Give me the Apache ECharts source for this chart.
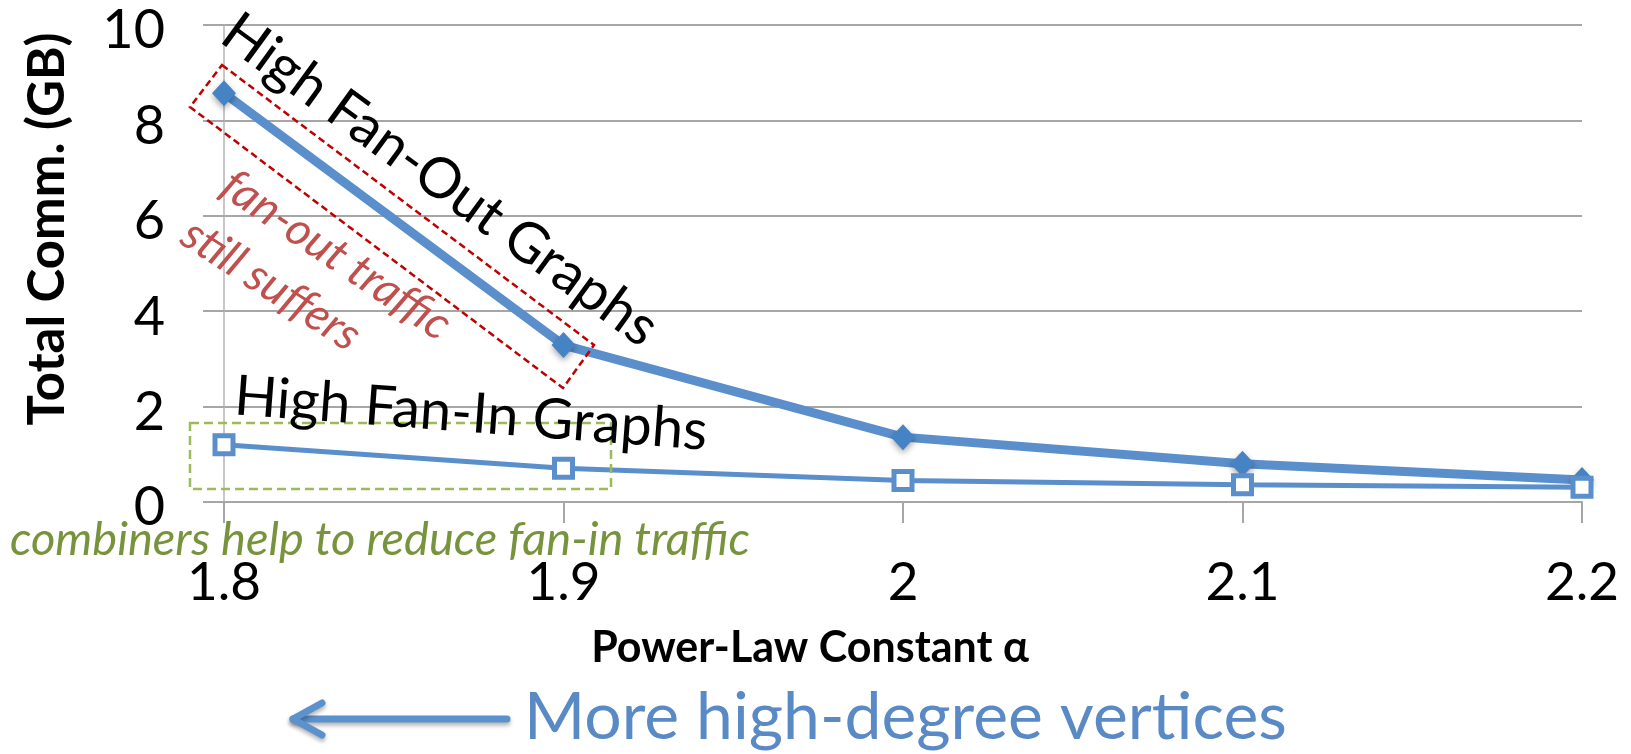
<!DOCTYPE html>
<html>
<head>
<meta charset="utf-8">
<script src="https://cdn.jsdelivr.net/npm/echarts@6/dist/echarts.min.js"></script>
<style>
  html, body { margin: 0; padding: 0; background: #fff; }
  #chart { width: 1631px; height: 754px; }
</style>
</head>
<body>
<div id="chart"></div>
<script>
// Power-law constant alpha (x categories)
const alphaLabels = ['1.8', '1.9', '2', '2.1', '2.2'];
// Total communication in GB
const fanOutGB = [8.57, 3.29, 1.36, 0.80, 0.46];
const fanInGB = [1.20, 0.71, 0.45, 0.36, 0.31];
// Y axis range
const yMin = 0, yMax = 10, yStep = 2;

const FONT = 'Lato, "Open Sans", sans-serif';
const BLUE = '#5A8FCB';
const GRID_GRAY = '#A6A6A6';
const deg = Math.PI / 180;

const chart = echarts.init(document.getElementById('chart'), null, { renderer: 'canvas' });

function txt(o) {
  // graphic text helper; sets both modern and legacy alignment keys
  const st = Object.assign({
    fill: '#000',
    align: o.align || 'center',
    verticalAlign: 'middle',
    textAlign: o.align || 'center',
    textVerticalAlign: 'middle'
  }, o.style);
  return { type: 'text', x: o.x, y: o.y, rotation: o.rotation || 0, z: 100, style: st };
}

const option = {
  animation: false,
  backgroundColor: '#fff',
  grid: { left: 224, right: 49, top: 25, bottom: 252 },
  xAxis: {
    type: 'category',
    data: alphaLabels,
    boundaryGap: false,
    axisLine: { show: true, lineStyle: { color: GRID_GRAY, width: 2 } },
    axisTick: { show: true, length: 21, interval: 0, lineStyle: { color: GRID_GRAY, width: 2 } },
    axisLabel: { fontFamily: FONT, fontSize: 53, color: '#000', margin: 54, interval: 0 },
    splitLine: { show: false }
  },
  yAxis: {
    type: 'value',
    min: yMin, max: yMax, interval: yStep,
    axisLine: { show: true, lineStyle: { color: '#B4B4B4', width: 1.5 } },
    axisTick: { show: true, length: 21, lineStyle: { color: GRID_GRAY, width: 2 } },
    // labels sit a little below their gridlines
    axisLabel: { fontFamily: FONT, fontSize: 54, color: '#000', margin: 59,
      verticalAlign: 'top', lineHeight: 12 },
    splitLine: { show: true, lineStyle: { color: GRID_GRAY, width: 2 } }
  },
  series: [
    {
      name: 'High Fan-Out Graphs',
      type: 'line',
      data: fanOutGB,
      symbol: 'diamond',
      symbolSize: [24, 26],
      lineStyle: { color: BLUE, width: 9 },
      itemStyle: {
        color: '#4683C5',
        shadowBlur: 6, shadowColor: 'rgba(0,0,0,0.35)', shadowOffsetY: 3
      },
      z: 2
    },
    {
      name: 'High Fan-In Graphs',
      type: 'line',
      data: fanInGB,
      symbol: 'rect',
      symbolSize: 18,
      lineStyle: { color: BLUE, width: 5 },
      itemStyle: { color: '#fff', borderColor: BLUE, borderWidth: 5 },
      z: 3
    }
  ],
  graphic: [
    // axis titles
    txt({ x: 48, y: 229, rotation: Math.PI / 2,
      style: { text: 'Total Comm. (GB)', font: 'bold 51px ' + FONT } }),
    txt({ x: 810, y: 648,
      style: { text: 'Power-Law Constant α', font: 'bold 43px ' + FONT } }),
    // series annotations
    txt({ x: 440, y: 180, rotation: -36 * deg,
      style: { text: 'High Fan-Out Graphs', font: '56px ' + FONT } }),
    txt({ x: 471, y: 414, rotation: -4.3 * deg,
      style: { text: 'High Fan-In Graphs', font: '56px ' + FONT } }),
    txt({ x: 336, y: 255, rotation: -34 * deg,
      style: { text: 'fan-out traffic', font: 'italic 46px ' + FONT, fill: '#C0504D' } }),
    txt({ x: 271, y: 285, rotation: -33 * deg,
      style: { text: 'still suffers', font: 'italic 46px ' + FONT, fill: '#C0504D' } }),
    txt({ x: 10, y: 540, align: 'left',
      style: { text: 'combiners help to reduce fan-in traffic', font: 'italic 47px ' + FONT, fill: '#77933C' } }),
    // dashed highlight boxes
    {
      type: 'polygon', z: 99,
      shape: { points: [[222, 65], [594, 345], [563, 388], [190, 107]] },
      style: { fill: 'none', stroke: '#C00000', lineWidth: 2.5, lineDash: [7, 4] }
    },
    {
      type: 'rect', z: 99,
      shape: { x: 190, y: 423, width: 421, height: 66 },
      style: { fill: 'none', stroke: '#9BBB59', lineWidth: 2.5, lineDash: [9, 5] }
    },
    // direction arrow and caption
    {
      type: 'polyline', z: 99,
      shape: { points: [[293, 719], [507, 719]] },
      style: { stroke: '#5B91CC', lineWidth: 7, lineCap: 'round', fill: 'none',
        shadowBlur: 4, shadowColor: 'rgba(0,0,0,0.3)', shadowOffsetY: 3 }
    },
    {
      type: 'polyline', z: 99,
      shape: { points: [[322, 703], [293, 719], [322, 735]] },
      style: { stroke: '#5B91CC', lineWidth: 7, lineCap: 'round', lineJoin: 'round', fill: 'none',
        shadowBlur: 4, shadowColor: 'rgba(0,0,0,0.3)', shadowOffsetY: 3 }
    },
    txt({ x: 524, y: 718, align: 'left',
      style: { text: 'More high-degree vertices', font: '66px ' + FONT, fill: '#5A8AC6' } })
  ]
};

chart.setOption(option);
</script>
</body>
</html>
